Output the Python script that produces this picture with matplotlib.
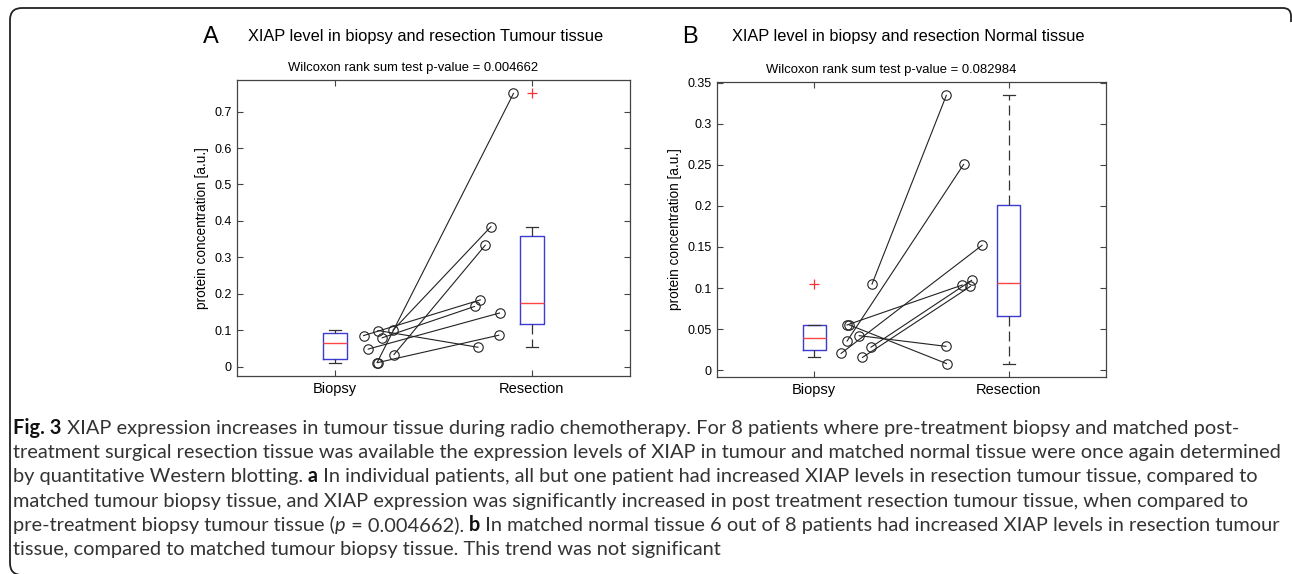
import numpy as np
import matplotlib
matplotlib.use("Agg")
import matplotlib.pyplot as plt
from matplotlib.patches import PathPatch
from matplotlib.path import Path

# ---- data ----
groups = ["Biopsy", "Resection"]

# panel A: tumour tissue, one entry per patient
tum_biopsy = [0.011, 0.011, 0.033, 0.100, 0.085, 0.079, 0.048, 0.099]
tum_resect = [0.750, 0.086, 0.333, 0.384, 0.183, 0.165, 0.147, 0.053]
tum_biopsy_jit = [1.213, 1.217, 1.299, 1.294, 1.144, 1.239, 1.168, 1.217]
tum_resect_jit = [1.907, 1.832, 1.763, 1.792, 1.738, 1.709, 1.836, 1.726]
tum_yticks = [0, 0.1, 0.2, 0.3, 0.4, 0.5, 0.6, 0.7]
tum_ylabels = ["0", "0.1", "0.2", "0.3", "0.4", "0.5", "0.6", "0.7"]

# panel B: normal tissue
nor_biopsy = [0.1048, 0.0355, 0.0204, 0.055, 0.055, 0.042, 0.028, 0.0155]
nor_resect = [0.3344, 0.2504, 0.152, 0.1036, 0.008, 0.029, 0.1093, 0.102]
nor_biopsy_jit = [1.297, 1.169, 1.138, 1.168, 1.181, 1.231, 1.292, 1.248]
nor_resect_jit = [1.679, 1.768, 1.863, 1.761, 1.680, 1.677, 1.809, 1.803]
nor_yticks = [0, 0.05, 0.1, 0.15, 0.2, 0.25, 0.3, 0.35]
nor_ylabels = ["0", "0.05", "0.1", "0.15", "0.2", "0.25", "0.3", "0.35"]

pvals = ["0.004662", "0.082984"]

W, H = 1292, 574
fig = plt.figure(figsize=(W / 100, H / 100), dpi=100)
plt.rcParams["font.family"] = ["Liberation Sans", "DejaVu Sans"]


def box_stats(vals):
    # matlab style quartiles
    v = np.sort(np.asarray(vals))
    q1, med, q3 = np.percentile(v, [25, 50, 75], method="hazen")
    iqr = q3 - q1
    lo, hi = q1 - 1.5 * iqr, q3 + 1.5 * iqr
    inside = v[(v >= lo) & (v <= hi)]
    return dict(med=med, q1=q1, q3=q3, whislo=inside.min(), whishi=inside.max(),
                fliers=v[(v < lo) | (v > hi)])


def panel(rect, bio, res, bio_x, res_x, yt, ytl):
    ax = fig.add_axes(rect)
    stats = [box_stats(bio), box_stats(res)]
    ax.bxp(stats, positions=[1, 2], widths=0.12, capwidths=0.06, showfliers=True,
           boxprops=dict(color="#3c3cd2", lw=1.0),
           medianprops=dict(color="#ff4545", lw=1.0),
           whiskerprops=dict(color="#333333", lw=0.9, linestyle=(0, (8, 4))),
           capprops=dict(color="#333333", lw=0.9),
           flierprops=dict(marker="+", markeredgecolor="#ff3030", markersize=7, markeredgewidth=0.9))
    for xb, yb, xr, yr in zip(bio_x, bio, res_x, res):
        ax.plot([xb, xr], [yb, yr], "-o", color="#222222", lw=0.8, mfc="none", mec="#222222",
                ms=6.8, mew=0.8)
    allv = np.array(bio + res)
    rng = allv.max() - allv.min()
    ax.set_ylim(allv.min() - 0.05 * rng, allv.max() + 0.05 * rng)
    ax.set_xlim(0.5, 2.5)
    ax.set_xticks([1, 2], groups, fontsize=10.5)
    ax.set_yticks(yt, ytl, fontsize=9)
    ax.tick_params(direction="in", top=True, right=True, length=4, width=0.8, color="#444444", pad=4)
    for s in ax.spines.values():
        s.set_color("#444444")
        s.set_linewidth(0.9)
    ax.set_ylabel("protein concentration [a.u.]", fontsize=9.8, labelpad=4)
    return ax


panel([237 / W, 1 - 376 / H, (630 - 237) / W, (376 - 80) / H],
      tum_biopsy, tum_resect, tum_biopsy_jit, tum_resect_jit, tum_yticks, tum_ylabels)
panel([717 / W, 1 - 377 / H, (1106 - 717) / W, (377 - 82) / H],
      nor_biopsy, nor_resect, nor_biopsy_jit, nor_resect_jit, nor_yticks, nor_ylabels)

# panel headings
fig.text(211 / W, 1 - 37 / H, "A", fontsize=17, ha="center", va="center")
fig.text(425.5 / W, 1 - 36 / H, "XIAP level in biopsy and resection Tumour tissue", fontsize=11.8,
         ha="center", va="center")
fig.text(413.5 / W, 1 - 68 / H, "Wilcoxon rank sum test p-value = " + pvals[0], fontsize=9.4,
         ha="center", va="center")
fig.text(690 / W, 1 - 37 / H, "B", fontsize=17, ha="center", va="center")
fig.text(908 / W, 1 - 36 / H, "XIAP level in biopsy and resection Normal tissue", fontsize=11.8,
         ha="center", va="center")
fig.text(891 / W, 1 - 70 / H, "Wilcoxon rank sum test p-value = " + pvals[1], fontsize=9.4,
         ha="center", va="center")

# page frame: left edge, top edge and the two corners that show in the crop
frame_px = [(22, 575), (10, 575), (10, 563),      # bottom-left corner
            (10, 20), (10, 8), (22, 8),             # top-left corner
            (1283, 8), (1291, 8), (1291, 16), (1291, 22)]
codes = [Path.MOVETO, Path.CURVE3, Path.CURVE3,
         Path.LINETO, Path.CURVE3, Path.CURVE3,
         Path.LINETO, Path.CURVE3, Path.CURVE3, Path.LINETO]
frame = Path([(x / W, 1 - y / H) for x, y in frame_px], codes)
fig.patches.append(PathPatch(frame, transform=fig.transFigure, fill=False, ec="#222222", lw=1.3))

# caption
cap_font = "Lato"
N = ("normal", "normal")
B = ("bold", "normal")
I = ("normal", "italic")
caption = [
    [("Fig. 3", B), (" XIAP expression increases in tumour tissue during radio chemotherapy. For 8 patients "
                     "where pre-treatment biopsy and matched post-", N)],
    [("treatment surgical resection tissue was available the expression levels of XIAP in tumour and "
      "matched normal tissue were once again determined", N)],
    [("by quantitative Western blotting.", N), (" a", B),
     (" In individual patients, all but one patient had increased XIAP levels in resection tumour "
      "tissue, compared to", N)],
    [("matched tumour biopsy tissue, and XIAP expression was significantly increased in post treatment "
      "resection tumour tissue, when compared to", N)],
    [("pre-treatment biopsy tumour tissue (", N), ("p", I), (" = 0.004662).", N), (" b", B),
     (" In matched normal tissue 6 out of 8 patients had increased XIAP levels in resection tumour", N)],
    [("tissue, compared to matched tumour biopsy tissue. This trend was not significant", N)],
]

renderer = fig.canvas.get_renderer()


def draw_line(y_px, runs, size):
    x = 13.0
    made = []
    for txt, (wt, st) in runs:
        t = fig.text(x / W, 1 - y_px / H, txt, fontsize=size, fontweight=wt, fontstyle=st,
                     family=[cap_font, "DejaVu Sans"], ha="left", va="baseline",
                     color="#111111" if wt == "bold" else "#333333")
        made.append(t)
        x = t.get_window_extent(renderer).x1
    return x - 13.0, made


# fit the font size so the longest line spans the same width as in the figure
w, tmp = draw_line(0, caption[1], 10)
for t in tmp:
    t.remove()
cap_size = 10 * 1268 / w
for i, runs in enumerate(caption):
    draw_line(434 + 24.2 * i, runs, cap_size)

fig.savefig("out.png", dpi=100)
